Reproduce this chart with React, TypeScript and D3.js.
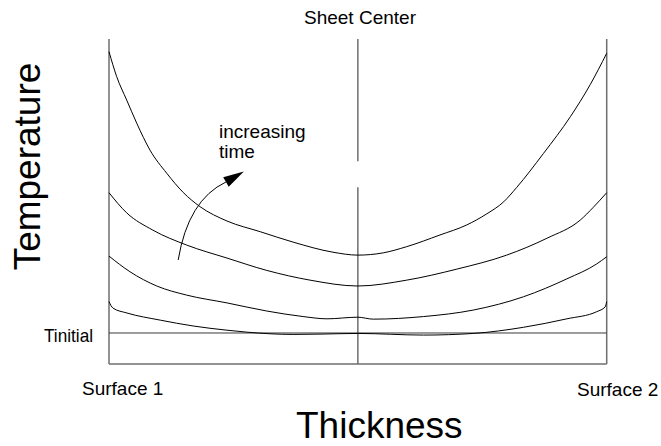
import React from "react";
import * as d3 from "d3";

// Thickness position (0 = Surface 1, 1 = Surface 2), temperature in arbitrary units (0..100)
const curve1X = [0, 0.0155, 0.0356, 0.0557, 0.0824, 0.116, 0.149, 0.183, 0.237, 0.304, 0.37, 0.45, 0.5, 0.551, 0.598, 0.665, 0.719, 0.759, 0.793, 0.819, 0.873, 0.927, 0.967, 1.0];
const curve1Y = [96.1, 88.4, 81.2, 74.1, 65.8, 58.7, 52.8, 48.4, 44.0, 40.7, 37.5, 34.4, 33.5, 34.2, 36.1, 39.7, 42.8, 46.2, 49.9, 54.3, 64.8, 76.1, 86.0, 95.6];

const curve2X = [0, 0.0356, 0.088, 0.156, 0.237, 0.317, 0.404, 0.5, 0.598, 0.699, 0.799, 0.88, 0.947, 0.973, 1.0];
const curve2Y = [52.7, 46.5, 41.2, 36.6, 32.6, 28.8, 25.8, 24.0, 25.8, 29.2, 33.5, 38.7, 44.3, 48.2, 52.7];

const curve3X = [0, 0.042, 0.096, 0.156, 0.237, 0.317, 0.39, 0.438, 0.5, 0.531, 0.632, 0.732, 0.833, 0.92, 0.98, 1.0];
const curve3Y = [33.2, 28.4, 24.0, 21.2, 18.8, 16.3, 14.6, 13.9, 14.4, 13.8, 14.6, 16.6, 20.7, 26.2, 30.8, 33.0];

const curve4X = [0, 0.008, 0.036, 0.103, 0.169, 0.237, 0.277, 0.37, 0.424, 0.5, 0.632, 0.732, 0.833, 0.92, 0.98, 0.997, 1.0];
const curve4Y = [19.2, 17.2, 15.7, 13.5, 11.7, 10.4, 9.8, 9.1, 9.2, 9.4, 8.9, 9.4, 11.3, 13.9, 16.1, 17.6, 19.2];

const tInitial = 9.54;
const sheetCenter = 0.5;

// "increasing time" arrow, in data units: tail, control, head base, tip
const arrowX = [0.139, 0.159, 0.235, 0.271];
const arrowY = [32.0, 50.5, 56.0, 59.2];

const W = 661;
const H = 446;

export default function App() {
  const x = d3.scaleLinear().domain([0, 1]).range([109, 606.7]);
  const y = d3.scaleLinear().domain([0, 100]).range([364, 39]);

  const line = d3
    .line<[number, number]>()
    .x((d) => x(d[0]))
    .y((d) => y(d[1]))
    .curve(d3.curveMonotoneX);

  const series = [
    [curve1X, curve1Y],
    [curve2X, curve2Y],
    [curve3X, curve3Y],
    [curve4X, curve4Y],
  ].map(([xs, ys]) => xs.map((v, i) => [v, ys[i]] as [number, number]));

  const top = y(100);
  const bottom = y(0);
  const cx = x(sheetCenter);

  // arrow
  const p0 = [x(arrowX[0]), y(arrowY[0])];
  const pc = [x(arrowX[1]), y(arrowY[1])];
  const p2 = [x(arrowX[2]), y(arrowY[2])];
  const tip = [x(arrowX[3]), y(arrowY[3])];
  const dx = tip[0] - p2[0];
  const dy = tip[1] - p2[1];
  const len = Math.hypot(dx, dy);
  const ux = dx / len;
  const uy = dy / len;
  const hw = 5.5;
  const headPts = [
    [tip[0], tip[1]],
    [p2[0] - uy * hw, p2[1] + ux * hw],
    [p2[0] + uy * hw, p2[1] - ux * hw],
  ];

  const font = "'Liberation Sans', Arial, Helvetica, sans-serif";

  return (
    <svg
      width={W}
      height={H}
      viewBox={`0 0 ${W} ${H}`}
      style={{ position: "absolute", left: 0, top: 0, background: "#fff" }}
    >
      <rect x={0} y={0} width={W} height={H} fill="#fff" />
      {/* axes frame (no top) */}
      <line x1={x(0)} x2={x(0)} y1={top} y2={bottom} stroke="#6e6e6e" strokeWidth={1.5} />
      <line x1={x(1)} x2={x(1)} y1={top} y2={bottom} stroke="#6e6e6e" strokeWidth={1.5} />
      <line x1={x(0)} x2={x(1)} y1={bottom} y2={bottom} stroke="#6e6e6e" strokeWidth={1.5} />
      {/* sheet center line with a single gap */}
      <line x1={cx} x2={cx} y1={top} y2={y(62.4)} stroke="#6e6e6e" strokeWidth={1.5} />
      <line x1={cx} x2={cx} y1={y(54.4)} y2={bottom} stroke="#6e6e6e" strokeWidth={1.5} />
      {/* Tinitial line */}
      <line x1={x(0)} x2={x(1)} y1={y(tInitial)} y2={y(tInitial)} stroke="#3a3a3a" strokeWidth={1} />
      {/* temperature profiles */}
      {series.map((s, i) => (
        <path key={i} d={line(s) || ""} fill="none" stroke="#000" strokeWidth={1} />
      ))}
      {/* increasing time arrow */}
      <path
        d={`M${p0[0]},${p0[1]} Q${pc[0]},${pc[1]} ${p2[0]},${p2[1]}`}
        fill="none"
        stroke="#000"
        strokeWidth={1}
      />
      <polygon points={headPts.map((p) => p.join(",")).join(" ")} fill="#000" />
      {/* texts */}
      <g fontFamily={font} fill="#000">
        <text x={304} y={24} fontSize={19}>Sheet Center</text>
        <text x={219} y={138} fontSize={19}>increasing</text>
        <text x={219} y={158} fontSize={19}>time</text>
        <text x={44} y={342} fontSize={19} textLength={49} lengthAdjust="spacingAndGlyphs">Tinitial</text>
        <text x={82} y={395} fontSize={19}>Surface 1</text>
        <text x={577} y={396} fontSize={19}>Surface 2</text>
        <text x={296} y={438} fontSize={37}>Thickness</text>
        <text
          transform="translate(40,166.5) rotate(-90)"
          textAnchor="middle"
          fontSize={37}
        >
          Temperature
        </text>
      </g>
    </svg>
  );
}
